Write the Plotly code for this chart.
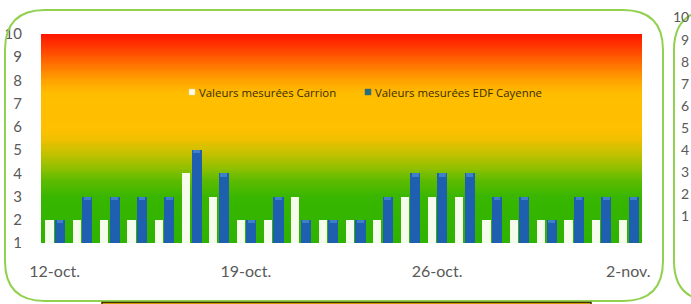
import plotly.graph_objects as go
import numpy as np

# ---- data ----
dates = ["12-oct.", "13-oct.", "14-oct.", "15-oct.", "16-oct.", "17-oct.", "18-oct.",
         "19-oct.", "20-oct.", "21-oct.", "22-oct.", "23-oct.", "24-oct.", "25-oct.",
         "26-oct.", "27-oct.", "28-oct.", "29-oct.", "30-oct.", "31-oct.", "1-nov.", "2-nov."]
carrion = [2, 2, 2, 2, 2, 4, 3, 2, 2, 3, 2, 2, 2, 3, 3, 3, 2, 2, 2, 2, 2, 2]
edf_cayenne = [2, 3, 3, 3, 3, 5, 4, 2, 3, 2, 2, 2, 3, 4, 4, 4, 3, 3, 2, 3, 3, 3]
tick_dates = ["12-oct.", "19-oct.", "26-oct.", "2-nov."]
y_ticks = [1, 2, 3, 4, 5, 6, 7, 8, 9, 10]
series_names = ["Valeurs mesurées Carrion", "Valeurs mesurées EDF Cayenne"]

# ---- geometry (pixels) ----
W, H = 691, 304
PL, PR, PT, PB = 41, 642, 34, 243
CAP = 0.14  # height of the lighter cap drawn on top of the blue bars (style)


def px(x):
    return (x - PL) / (PR - PL)


def py(y):
    return (PB - y) / (PB - PT)


def rrect(x0, y0, x1, y1, r):
    pts = [
        ("M", [(x0 + r, y0)]),
        ("L", [(x1 - r, y0)]),
        ("Q", [(x1, y0), (x1, y0 + r)]),
        ("L", [(x1, y1 - r)]),
        ("Q", [(x1, y1), (x1 - r, y1)]),
        ("L", [(x0 + r, y1)]),
        ("Q", [(x0, y1), (x0, y1 - r)]),
        ("L", [(x0, y0 + r)]),
        ("Q", [(x0, y0), (x0 + r, y0)]),
    ]
    s = ""
    for cmd, ps in pts:
        s += cmd + " ".join(f"{px(a):.5f},{py(b):.5f}" for a, b in ps) + " "
    return s + "Z"


fig = go.Figure()

# gradient background
grad_y = np.linspace(1, 10, 181)
fig.add_trace(go.Heatmap(
    x=dates, y=grad_y, z=[[v] * len(dates) for v in grad_y],
    zmin=1, zmax=10, zsmooth="best", showscale=False, hoverinfo="skip",
    colorscale=[
        [0.0, "#2eb300"], [0.22, "#38b600"], [0.30, "#5cbb00"], [0.36, "#8fc000"],
        [0.43, "#c4c100"], [0.50, "#f0c000"], [0.55, "#ffc000"], [0.72, "#ffbd00"],
        [0.78, "#ffa200"], [0.86, "#ff7000"], [0.93, "#ff4000"], [1.0, "#ff1500"],
    ],
))

fig.add_trace(go.Bar(
    x=dates, y=carrion, base=0, name=series_names[0],
    marker=dict(color="#f6fcec", line=dict(width=0)),
    width=0.30, offset=-0.34, showlegend=False,
))
fig.add_trace(go.Bar(
    x=dates, y=edf_cayenne, base=0, name=series_names[1],
    marker=dict(color="#1f5fb0", line=dict(width=0)),
    width=0.37, offset=0.01, showlegend=False,
))
# lighter cap at the top of each blue bar
fig.add_trace(go.Bar(
    x=dates, y=[CAP] * len(dates), base=[v - CAP for v in edf_cayenne],
    marker=dict(color="#3f7fca", line=dict(width=0)), hoverinfo="skip",
    width=0.25, offset=0.07, showlegend=False,
))

shapes = []
# legend markers
shapes.append(dict(type="rect", xref="paper", yref="paper",
                   x0=px(189), x1=px(195), y0=py(95), y1=py(89),
                   fillcolor="#fffbe8", line=dict(width=0.5, color="#e0d8a0")))
shapes.append(dict(type="rect", xref="paper", yref="paper",
                   x0=px(365), x1=px(371), y0=py(95), y1=py(89),
                   fillcolor="#2a6a8a", line=dict(width=0.5, color="#3a7a50")))
# main rounded frame
shapes.append(dict(type="path", xref="paper", yref="paper",
                   path=rrect(5, 10, 663, 301, 40),
                   line=dict(color="#92d050", width=2), layer="above"))
# right neighbour frame
shapes.append(dict(type="path", xref="paper", yref="paper",
                   path=rrect(674, 10, 760, 301, 40),
                   line=dict(color="#92d050", width=2), layer="above"))
# bottom box (partly visible)
shapes.append(dict(type="rect", xref="paper", yref="paper",
                   x0=px(102), x1=px(591), y0=py(330), y1=py(302.5),
                   fillcolor="#ffc000", line=dict(color="#3d3000", width=1.5)))

annotations = [
    dict(text=series_names[0], x=px(197), y=py(92), xref="paper", yref="paper",
         xanchor="left", yanchor="middle", showarrow=False,
         font=dict(family="Open Sans", size=11.4, color="#3a2c00")),
    dict(text=series_names[1], x=px(373), y=py(92), xref="paper", yref="paper",
         xanchor="left", yanchor="middle", showarrow=False,
         font=dict(family="Open Sans", size=11.4, color="#3a2c00")),
]
# right-hand neighbour axis labels, squeezed against the right edge
for i, t in enumerate(y_ticks[::-1]):
    annotations.append(dict(text=str(t), x=px(691), y=py(17 + i * 22.1),
                            xref="paper", yref="paper", xanchor="right",
                            yanchor="middle", showarrow=False,
                            font=dict(family="Lato", size=14, color="#595959")))

fig.update_layout(
    width=W, height=H,
    margin=dict(l=PL, r=W - PR, t=PT, b=H - PB, autoexpand=False),
    paper_bgcolor="white", plot_bgcolor="white",
    barmode="overlay", bargap=0,
    showlegend=False,
    shapes=shapes, annotations=annotations,
    xaxis=dict(type="category", range=[-0.5, 21.5], tickmode="array",
               tickvals=tick_dates, ticktext=tick_dates, showgrid=False,
               zeroline=False, showline=False, ticks="", ticklabelstandoff=17,
               automargin=False,
               tickfont=dict(family="Lato", size=16, color="#595959")),
    yaxis=dict(range=[1, 10], tickmode="array", tickvals=y_ticks, showgrid=False,
               zeroline=False, showline=False, ticks="", ticklabelstandoff=18,
               automargin=False,
               tickfont=dict(family="Lato", size=15, color="#595959")),
)

fig.write_html("out.html",
               config={"displayModeBar": False, "staticPlot": True},
               post_script="document.body.style.margin='0px';"
                           "document.body.style.overflow='hidden';")
